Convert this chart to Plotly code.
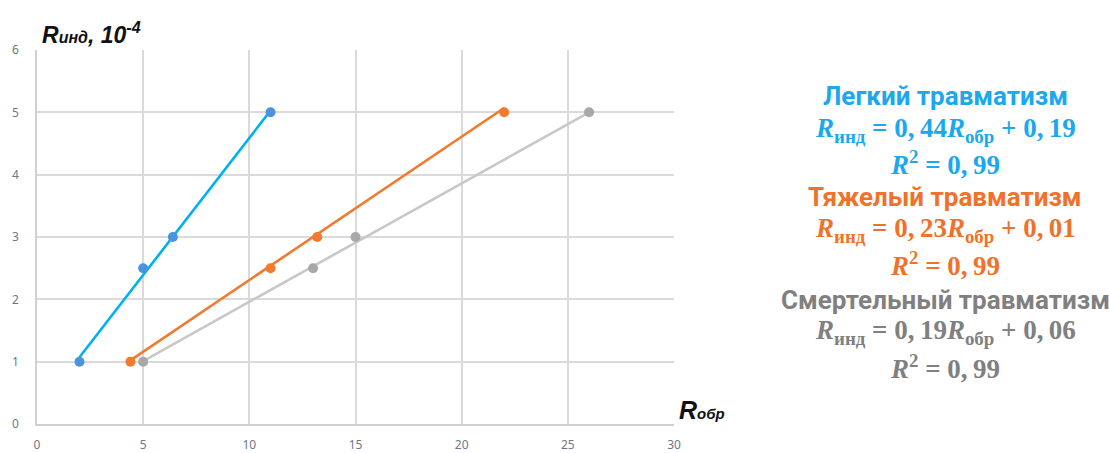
import plotly.graph_objects as go

# Observed points (R_обр, R_инд ×10^-4) for each injury severity
light_x = [2, 5, 6.4, 11]
light_y = [1, 2.5, 3, 5]
heavy_x = [4.4, 11, 13.2, 22]
heavy_y = [1, 2.5, 3, 5]
fatal_x = [5, 13, 15, 26]
fatal_y = [1, 2.5, 3, 5]

# Linear trend coefficients: R_инд = k * R_обр + b
light_fit = (0.44, 0.19)
heavy_fit = (0.23, 0.01)
fatal_fit = (0.19, 0.06)
r2 = ["0,99", "0,99", "0,99"]

series = [
    ("Легкий травматизм", light_x, light_y, light_fit, "#00B0F0", "#4A94DC", "#1BA8EE"),
    ("Тяжелый травматизм", heavy_x, heavy_y, heavy_fit, "#F07A2E", "#F07A2E", "#F0722A"),
    ("Смертельный травматизм", fatal_x, fatal_y, fatal_fit, "#C8C8C8", "#A8A8A8", "#808080"),
]

W, H = 1109, 453
L, R, T, B = 37, 435, 50, 29
pw, ph = W - L - R, H - T - B


def px(x):
    return (x - L) / pw


def py(y):
    return (H - B - y) / ph


fig = go.Figure()

for name, xs, ys, (k, b), line_c, mark_c, _ in series:
    x0, x1 = min(xs), max(xs)
    fig.add_trace(go.Scatter(
        x=[x0, x1], y=[k * x0 + b, k * x1 + b], mode="lines",
        line=dict(color=line_c, width=2.6), hoverinfo="skip", showlegend=False))
    fig.add_trace(go.Scatter(
        x=xs, y=ys, mode="markers", name=name,
        marker=dict(color=mark_c, size=10), showlegend=False))

annotations = []
math_font = "Liberation Serif, DejaVu Serif, serif"
head_font = "Roboto, Noto Sans, sans-serif"
row_y = [96, 130, 163, 197, 230, 264, 300, 332, 367]
cx = 945
sp = "\u2009"
for i, (name, xs, ys, (k, b), _, _, txt_c) in enumerate(series):
    kk = f"{k:.2f}".replace(".", "," + sp)
    bb = f"{b:.2f}".replace(".", "," + sp)
    eq = (f"<b><i>R</i><sub>инд</sub> = {kk}<i>R</i><sub>обр</sub> + {bb}</b>")
    r2t = f"<b><i>R</i><sup>2</sup> = {r2[i].replace(',', ',' + sp)}</b>"
    lines = [
        (f"<b>{name}</b>", head_font, 26),
        (eq, math_font, 27),
        (r2t, math_font, 27),
    ]
    for j, (t, f, s) in enumerate(lines):
        annotations.append(dict(
            x=px(cx), y=py(row_y[3 * i + j]), xref="paper", yref="paper",
            text=t, showarrow=False, xanchor="center", yanchor="middle",
            font=dict(family=f, size=s, color=txt_c)))

# Axis titles
annotations.append(dict(
    x=px(40), y=py(33), xref="paper", yref="paper", xanchor="left", yanchor="middle",
    text="<b><i>R<span style='font-size:16px'>инд</span>, 10<sup>-4</sup></i></b>",
    showarrow=False, font=dict(family="Liberation Sans, Arial, sans-serif", size=23, color="#111111")))
annotations.append(dict(
    x=px(677), y=py(410), xref="paper", yref="paper", xanchor="left", yanchor="middle",
    text="<b><i>R<span style='font-size:15px'>обр</span></i></b>",
    showarrow=False, font=dict(family="Liberation Sans, Arial, sans-serif", size=25, color="#111111")))

fig.update_layout(
    width=W, height=H,
    margin=dict(l=L, r=R, t=T, b=B),
    paper_bgcolor="white", plot_bgcolor="white",
    annotations=annotations,
    xaxis=dict(range=[0, 30], tickvals=[0, 5, 10, 15, 20, 25, 30], showgrid=True,
               gridcolor="#DADADA", gridwidth=1.5, zeroline=False, showline=True,
               linecolor="#D0D0D0", linewidth=1.5, ticks="", ticklabelstandoff=9,
               automargin=False,
               tickfont=dict(family="Noto Sans, sans-serif", size=12, color="#6E7686")),
    yaxis=dict(range=[0, 6], tickvals=[0, 1, 2, 3, 4, 5, 6], showgrid=True,
               gridcolor="#DADADA", gridwidth=1.5, zeroline=False, showline=True,
               linecolor="#D0D0D0", linewidth=1.5, ticks="", ticklabelstandoff=14,
               automargin=False,
               tickfont=dict(family="Noto Sans, sans-serif", size=12, color="#6E7686")),
)

fig.write_html("out.html")
